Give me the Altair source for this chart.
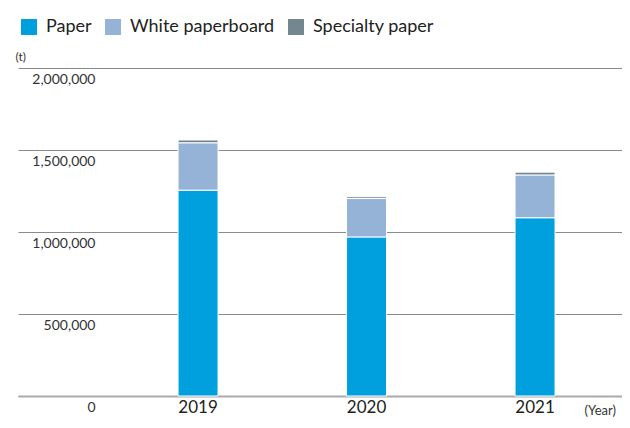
import altair as alt
import pandas as pd

years = ["2019", "2020", "2021"]
categories = ["Paper", "White paperboard", "Specialty paper"]
paper = [1255000, 970000, 1087000]
white_paperboard = [289000, 234000, 261000]
specialty_paper = [17000, 11000, 17000]
y_ticks = [0, 500000, 1000000, 1500000, 2000000]
colors = ["#009fde", "#95b3d7", "#738791"]

rows = []
for i, y in enumerate(years):
    for k, (cat, vals) in enumerate(zip(categories, [paper, white_paperboard, specialty_paper])):
        rows.append({"year": y, "category": cat, "value": vals[i], "order": k})
df = pd.DataFrame(rows)

FONT = "Lato"

chart = alt.Chart(df).mark_bar(stroke="white", strokeWidth=1).encode(
    x=alt.X("year:N", sort=years,
            scale=alt.Scale(paddingInner=0.7626, paddingOuter=0.6736, align=0.705),
            axis=alt.Axis(title="(Year)", labelAngle=0, labelFontSize=17, labelColor="#222",
                          labelFont=FONT, labelPadding=3, ticks=False, domain=True,
                          domainColor="#aaaaaa", domainWidth=2,
                          titleFont=FONT, titleFontSize=13, titleFontWeight="normal",
                          titleColor="#333", titleX=566, titleY=14, titleAlign="left",
                          titleBaseline="middle", titleAnchor="start")),
    y=alt.Y("value:Q", stack="zero",
            scale=alt.Scale(domain=[0, 2000000], nice=False),
            axis=alt.Axis(title="(t)", values=y_ticks, format=",.0f", grid=True,
                          gridColor="#8a8a8a", gridWidth=1, domain=False, ticks=False,
                          labelPadding=-77, labelAlign="right", labelBaseline="middle",
                          labelOffset=11, labelFontSize=14, labelColor="#333", labelFont=FONT,
                          titleAngle=0, titleX=-3, titleY=-12, titleAlign="left",
                          titleBaseline="middle", titleFont=FONT, titleFontSize=12,
                          titleFontWeight="normal", titleColor="#333")),
    color=alt.Color("category:N", sort=categories,
                    scale=alt.Scale(domain=categories, range=colors),
                    legend=alt.Legend(title=None, orient="none", direction="horizontal",
                                      legendX=2, legendY=-50, symbolType="square",
                                      symbolSize=256, symbolStrokeWidth=0,
                                      labelFontSize=18, labelFont=FONT, labelColor="#222",
                                      labelOffset=8, columnPadding=12, padding=0)),
    order=alt.Order("order:Q", sort="ascending"),
).properties(
    width=604, height=328,
    autosize=alt.AutoSizeParams(type="none"),
    padding={"left": 10, "top": 60, "right": 0, "bottom": 24},
).configure_view(stroke=None)

chart.save("out.html", embed_options={"renderer": "svg", "actions": False})
